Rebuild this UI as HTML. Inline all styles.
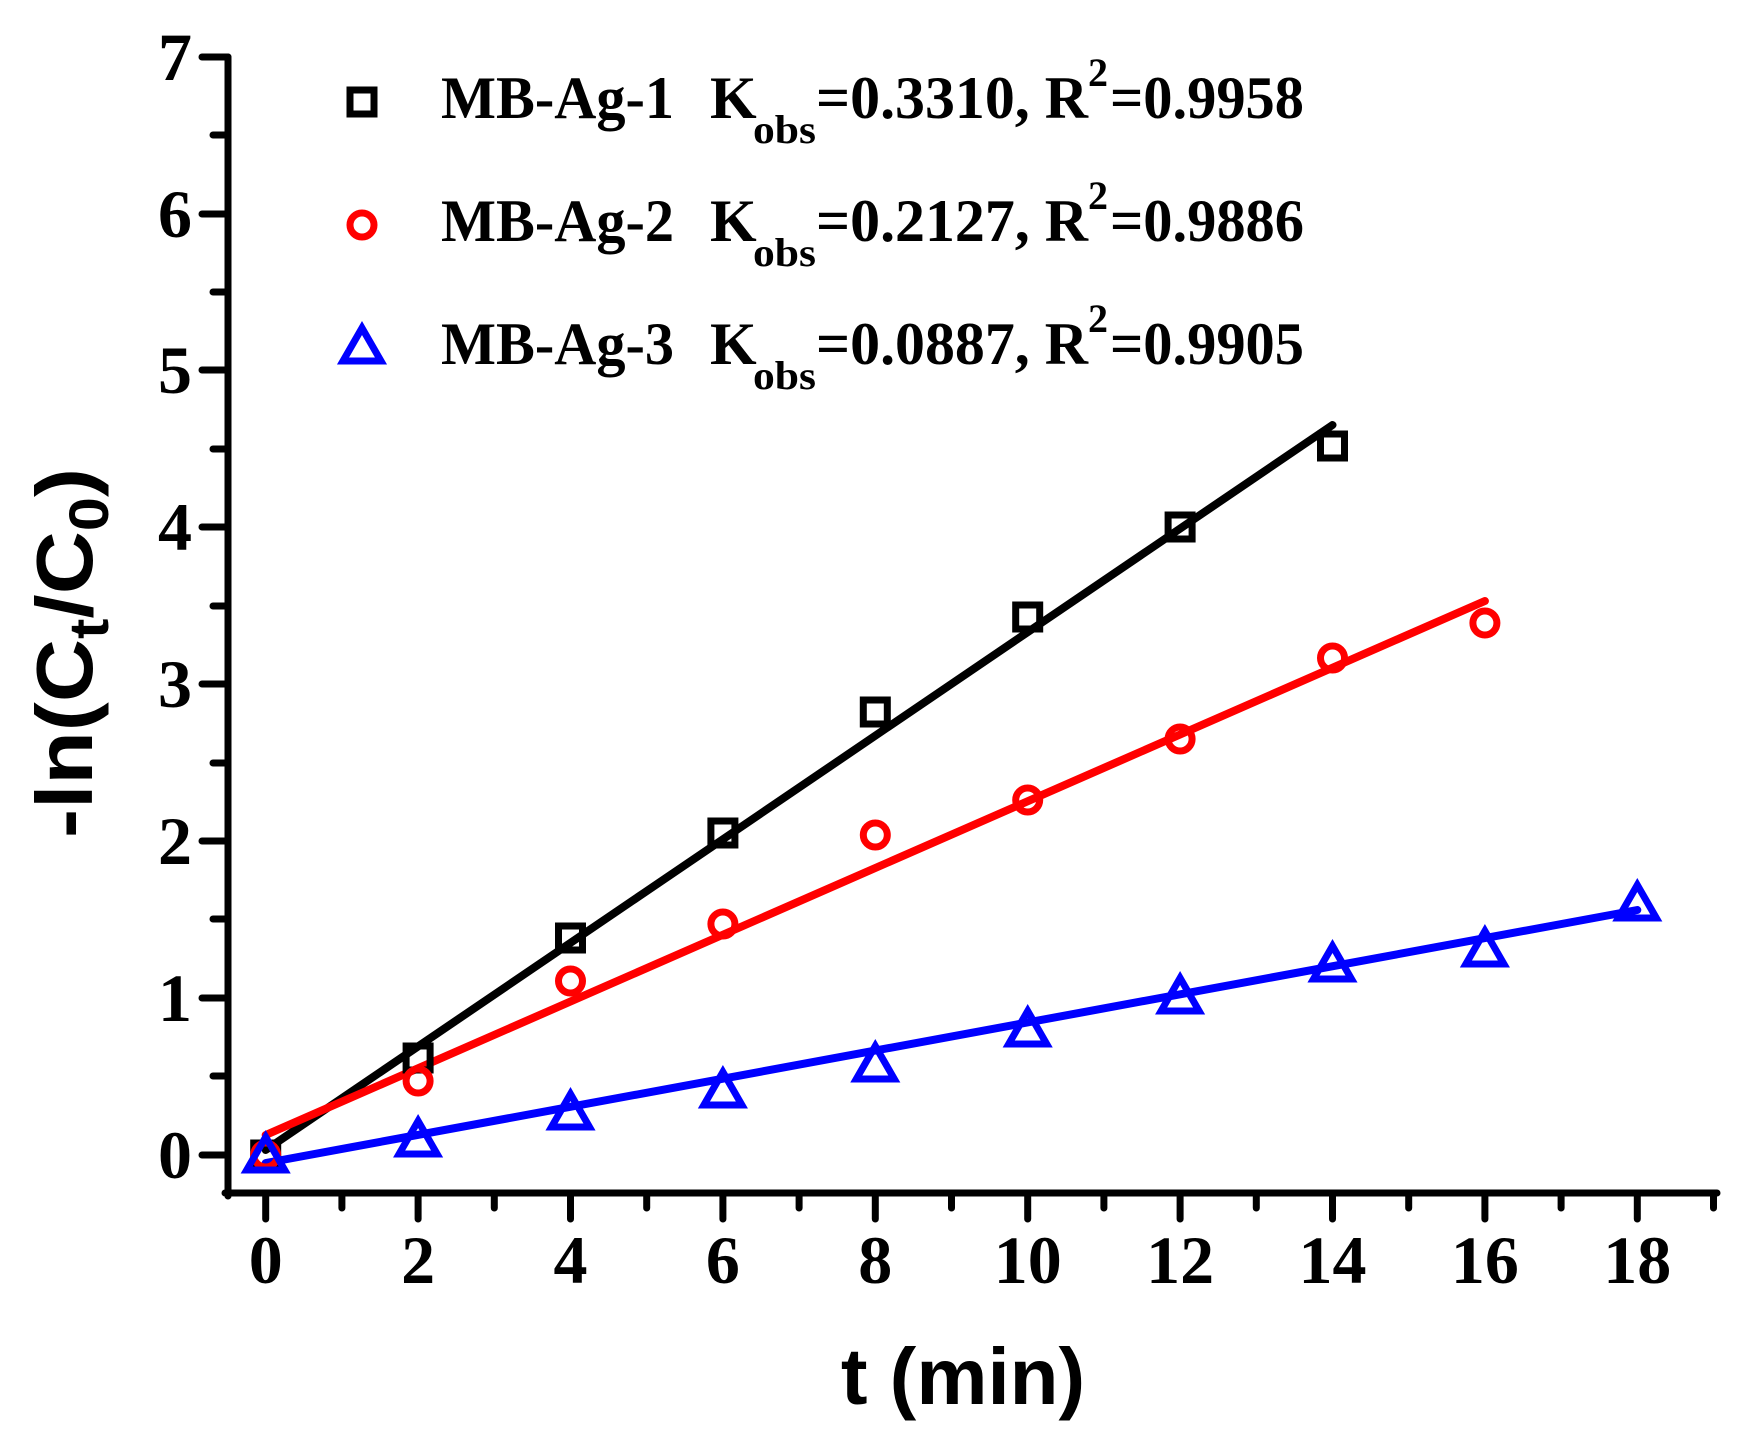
<!DOCTYPE html>
<html><head><meta charset="utf-8"><style>
html,body{margin:0;padding:0;background:#fff;}
svg{display:block;}
</style></head><body>
<svg width="1740" height="1440" viewBox="0 0 1740 1440" xmlns="http://www.w3.org/2000/svg">
<rect width="1740" height="1440" fill="#fff"/>
<g stroke="#000" stroke-width="7" stroke-linecap="round" fill="none">
<line x1="228" y1="57" x2="228" y2="1196"/>
<line x1="225" y1="1193" x2="1717" y2="1193"/>
<line x1="202" y1="1155" x2="228" y2="1155"/>
<line x1="202" y1="998" x2="228" y2="998"/>
<line x1="202" y1="841" x2="228" y2="841"/>
<line x1="202" y1="684" x2="228" y2="684"/>
<line x1="202" y1="527" x2="228" y2="527"/>
<line x1="202" y1="370" x2="228" y2="370"/>
<line x1="202" y1="214" x2="228" y2="214"/>
<line x1="202" y1="57" x2="228" y2="57"/>
<line x1="213" y1="1076" x2="228" y2="1076"/>
<line x1="213" y1="919" x2="228" y2="919"/>
<line x1="213" y1="763" x2="228" y2="763"/>
<line x1="213" y1="606" x2="228" y2="606"/>
<line x1="213" y1="449" x2="228" y2="449"/>
<line x1="213" y1="292" x2="228" y2="292"/>
<line x1="213" y1="135" x2="228" y2="135"/>
<line x1="265.7" y1="1193" x2="265.7" y2="1219"/>
<line x1="418.1" y1="1193" x2="418.1" y2="1219"/>
<line x1="570.5" y1="1193" x2="570.5" y2="1219"/>
<line x1="722.9" y1="1193" x2="722.9" y2="1219"/>
<line x1="875.3" y1="1193" x2="875.3" y2="1219"/>
<line x1="1027.7" y1="1193" x2="1027.7" y2="1219"/>
<line x1="1180.1" y1="1193" x2="1180.1" y2="1219"/>
<line x1="1332.5" y1="1193" x2="1332.5" y2="1219"/>
<line x1="1484.9" y1="1193" x2="1484.9" y2="1219"/>
<line x1="1637.3" y1="1193" x2="1637.3" y2="1219"/>
<line x1="341.9" y1="1193" x2="341.9" y2="1208"/>
<line x1="494.3" y1="1193" x2="494.3" y2="1208"/>
<line x1="646.7" y1="1193" x2="646.7" y2="1208"/>
<line x1="799.1" y1="1193" x2="799.1" y2="1208"/>
<line x1="951.5" y1="1193" x2="951.5" y2="1208"/>
<line x1="1103.9" y1="1193" x2="1103.9" y2="1208"/>
<line x1="1256.3" y1="1193" x2="1256.3" y2="1208"/>
<line x1="1408.7" y1="1193" x2="1408.7" y2="1208"/>
<line x1="1561.1" y1="1193" x2="1561.1" y2="1208"/>
<line x1="1713.5" y1="1193" x2="1713.5" y2="1208"/>
</g>
<g font-family="Liberation Serif, serif" font-weight="bold" font-size="68" fill="#000">
<g text-anchor="end">
<text x="192" y="1178">0</text>
<text x="192" y="1021">1</text>
<text x="192" y="864">2</text>
<text x="192" y="707">3</text>
<text x="192" y="550">4</text>
<text x="192" y="393">5</text>
<text x="192" y="237">6</text>
<text x="192" y="80">7</text>
</g>
<g text-anchor="middle">
<text x="265.7" y="1283">0</text>
<text x="418.1" y="1283">2</text>
<text x="570.5" y="1283">4</text>
<text x="722.9" y="1283">6</text>
<text x="875.3" y="1283">8</text>
<text x="1027.7" y="1283">10</text>
<text x="1180.1" y="1283">12</text>
<text x="1332.5" y="1283">14</text>
<text x="1484.9" y="1283">16</text>
<text x="1637.3" y="1283">18</text>
</g>
</g>
<text x="963" y="1404" text-anchor="middle" font-family="Liberation Sans, sans-serif" font-weight="bold" font-size="80" fill="#000">t (min)</text>
<text transform="translate(92,838) rotate(-90)" font-family="Liberation Sans, sans-serif" font-weight="bold" font-size="80" fill="#000" textLength="370" lengthAdjust="spacingAndGlyphs">-ln(C<tspan font-size="56" dy="16">t</tspan><tspan dy="-16">/C</tspan><tspan font-size="56" dy="16">0</tspan><tspan dy="-16">)</tspan></text>
<g stroke-width="8" stroke-linecap="round" fill="none">
<line x1="265.7" y1="1150" x2="1332.5" y2="425" stroke="#000"/>
<line x1="265.7" y1="1135" x2="1484.9" y2="601" stroke="#f00"/>
<line x1="265.7" y1="1163" x2="1637.3" y2="910" stroke="#00f"/>
</g>
<g fill="none" stroke="#000" stroke-width="7">
<rect x="253.7" y="1143" width="24" height="24"/>
<rect x="406.1" y="1046" width="24" height="24"/>
<rect x="558.5" y="926" width="24" height="24"/>
<rect x="710.9" y="821" width="24" height="24"/>
<rect x="863.3" y="700" width="24" height="24"/>
<rect x="1015.7" y="605" width="24" height="24"/>
<rect x="1168.1" y="515" width="24" height="24"/>
<rect x="1320.5" y="434" width="24" height="24"/>
</g>
<g fill="none" stroke="#f00" stroke-width="7">
<circle cx="265.7" cy="1155" r="12"/>
<circle cx="418.1" cy="1081" r="12"/>
<circle cx="570.5" cy="981" r="12"/>
<circle cx="722.9" cy="924" r="12"/>
<circle cx="875.3" cy="835" r="12"/>
<circle cx="1027.7" cy="800" r="12"/>
<circle cx="1180.1" cy="739" r="12"/>
<circle cx="1332.5" cy="658" r="12"/>
<circle cx="1484.9" cy="623" r="12"/>
</g>
<g fill="none" stroke="#00f" stroke-width="7" stroke-linejoin="miter">
<path d="M265.7,1137 l-19,33 h38 z"/>
<path d="M418.1,1121 l-19,33 h38 z"/>
<path d="M570.5,1094 l-19,33 h38 z"/>
<path d="M722.9,1072 l-19,33 h38 z"/>
<path d="M875.3,1046 l-19,33 h38 z"/>
<path d="M1027.7,1011 l-19,33 h38 z"/>
<path d="M1180.1,978 l-19,33 h38 z"/>
<path d="M1332.5,946 l-19,33 h38 z"/>
<path d="M1484.9,931 l-19,33 h38 z"/>
<path d="M1637.3,885 l-19,33 h38 z"/>
</g>
<rect x="350" y="90" width="24" height="24" fill="none" stroke="#000" stroke-width="7"/>
<circle cx="362" cy="225" r="12" fill="none" stroke="#f00" stroke-width="7"/>
<path d="M362,328 l-19,33 h38 z" fill="none" stroke="#00f" stroke-width="7"/>
<g font-family="Liberation Serif, serif" font-weight="bold" font-size="60" fill="#000">
<text x="441" y="118" textLength="233" lengthAdjust="spacingAndGlyphs">MB-Ag-1</text>
<text x="710" y="118">K</text>
<text x="753" y="143" font-size="40" textLength="63" lengthAdjust="spacingAndGlyphs">obs</text>
<text x="816" y="118" textLength="272" lengthAdjust="spacingAndGlyphs">=0.3310, R</text>
<text x="1088" y="86" font-size="40">2</text>
<text x="1110" y="118" textLength="194" lengthAdjust="spacingAndGlyphs">=0.9958</text>
<text x="441" y="241" textLength="233" lengthAdjust="spacingAndGlyphs">MB-Ag-2</text>
<text x="710" y="241">K</text>
<text x="753" y="266" font-size="40" textLength="63" lengthAdjust="spacingAndGlyphs">obs</text>
<text x="816" y="241" textLength="272" lengthAdjust="spacingAndGlyphs">=0.2127, R</text>
<text x="1088" y="209" font-size="40">2</text>
<text x="1110" y="241" textLength="194" lengthAdjust="spacingAndGlyphs">=0.9886</text>
<text x="441" y="364" textLength="233" lengthAdjust="spacingAndGlyphs">MB-Ag-3</text>
<text x="710" y="364">K</text>
<text x="753" y="389" font-size="40" textLength="63" lengthAdjust="spacingAndGlyphs">obs</text>
<text x="816" y="364" textLength="272" lengthAdjust="spacingAndGlyphs">=0.0887, R</text>
<text x="1088" y="332" font-size="40">2</text>
<text x="1110" y="364" textLength="194" lengthAdjust="spacingAndGlyphs">=0.9905</text>
</g>
</svg>
</body></html>
